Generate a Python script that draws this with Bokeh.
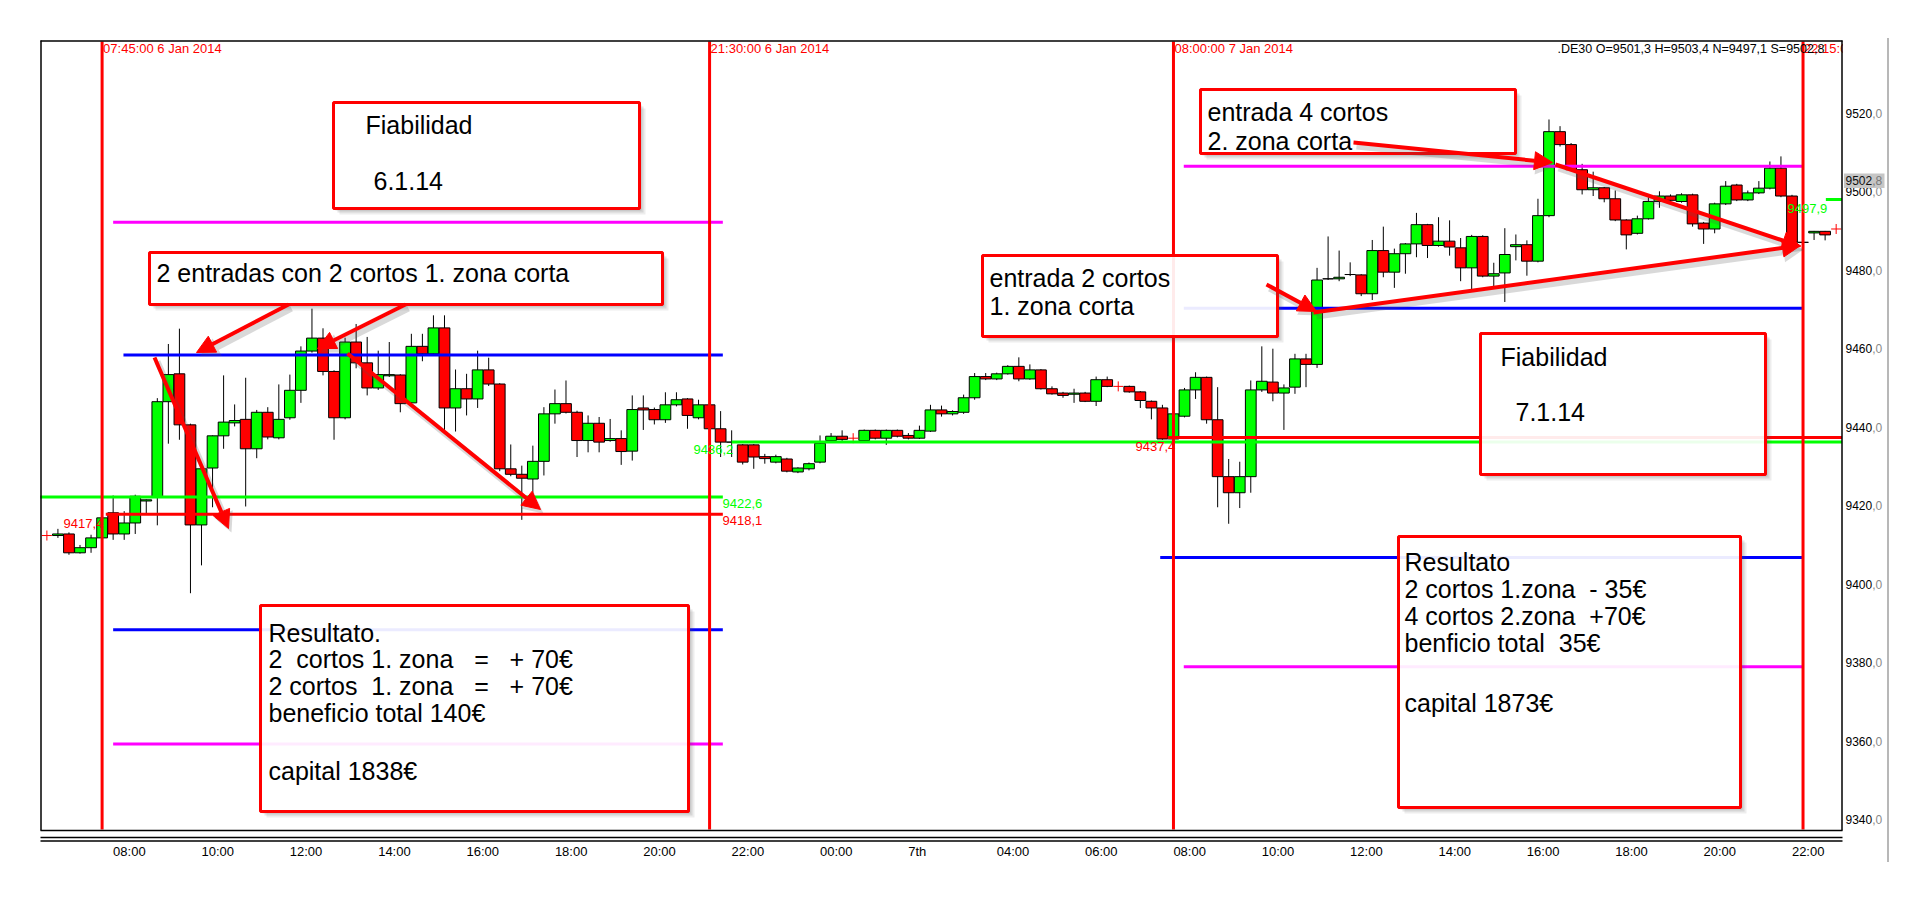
import pandas as pd
from bokeh.plotting import figure
from bokeh.models import Range1d, FixedTicker, Arrow, NormalHead, ColumnDataSource, Spacer
from bokeh.layouts import row, column
from bokeh.core.properties import value
from bokeh.embed import file_html
from bokeh.resources import INLINE

# ---------------- data ----------------
first_bar = "2014-01-06 06:45"   # 15-minute bars
opens = [9412.4, 9412.8, 9408.0, 9409.3, 9411.8, 9418.2, 9412.8, 9415.6, 9421.2, 9422.2,
         9446.5, 9453.6, 9440.6, 9415.1, 9429.6, 9437.8, 9441.1, 9442.0, 9434.5, 9443.8,
         9437.3, 9442.4, 9449.4, 9459.4, 9462.7, 9454.2, 9442.4, 9461.7, 9456.4, 9450.0,
         9453.1, 9453.3, 9446.2, 9460.6, 9458.7, 9465.3, 9444.9, 9449.8, 9447.2, 9454.6,
         9451.0, 9429.4, 9428.0, 9426.8, 9431.3, 9443.4, 9446.0, 9443.8, 9436.6, 9441.0,
         9436.6, 9437.1, 9433.9, 9444.9, 9444.5, 9441.9, 9445.7, 9447.2, 9442.4, 9445.7,
         9439.6, 9436.2, 9435.5, 9435.5, 9432.5, 9431.1, 9431.9, 9428.6, 9429.4, 9431.1,
         9436.6, 9437.7, None, 9436.6, 9439.2, 9437.2, 9439.2, 9437.9, 9437.2, 9439.0,
         9444.4, 9443.4, 9443.8, 9447.5, 9452.9, 9452.3, 9453.6, 9455.5, 9452.3, 9454.6,
         9449.8, 9448.7, 9448.4, 9448.7, 9446.6, 9452.1, None, 9450.4, 9449.0, 9446.6,
         9444.9, 9437.0, 9442.8, 9449.5, 9452.7, 9441.9, 9427.4, 9423.3, 9427.4, 9449.5,
         9451.5, 9448.7, 9450.2, 9457.4, 9456.0, 9477.8, 9477.8, 9478.9, 9478.8, 9474.0,
         9485.0, 9479.5, 9484.2, 9486.7, 9491.6, 9486.3, 9487.4, 9485.7, 9480.6, 9488.6,
         9478.5, 9479.3, 9486.0, 9486.5, 9482.3, 9493.9, 9515.3, 9512.0, 9505.6, 9500.5,
         9501.0, 9498.2, 9492.8, 9489.4, 9493.1, 9497.5, 9498.9, 9497.5, 9499.2, 9492.0,
         9490.5, 9496.9, 9501.7, 9497.9, 9499.7, 9500.9, 9506.0, 9498.9, 9487.1, 9489.5,
         9489.9]
highs = [9414.1, 9413.2, 9410.0, 9412.6, 9417.5, 9422.6, 9418.6, 9422.8, 9421.6, 9447.4,
         9461.2, 9465.1, 9440.9, 9429.6, 9437.9, 9453.2, 9445.8, 9452.6, 9444.4, 9445.1,
         9450.9, 9453.4, 9460.6, 9470.2, 9465.2, 9454.5, 9462.8, 9466.3, 9463.0, 9459.5,
         9461.7, 9453.5, 9463.8, 9463.8, 9468.5, 9468.5, 9454.7, 9453.6, 9459.5, 9457.7,
         9451.2, 9435.6, 9430.2, 9435.3, 9445.1, 9449.6, 9451.9, 9444.2, 9443.0, 9442.6,
         9442.1, 9439.2, 9448.1, 9448.1, 9445.0, 9448.9, 9448.9, 9447.4, 9447.0, 9446.0,
         9444.1, 9439.2, 9435.7, 9435.7, 9433.2, 9433.0, 9432.2, 9429.8, 9431.0, 9437.9,
         9438.5, 9439.2, None, 9439.4, 9439.4, 9439.4, 9439.4, 9438.5, 9440.4, 9445.7,
         9445.5, 9444.3, 9448.3, 9453.8, 9453.8, 9453.9, 9455.8, 9457.8, 9456.0, 9454.8,
         9450.4, 9449.0, 9449.8, 9449.0, 9452.9, 9452.9, None, 9450.6, 9449.2, 9446.8,
         9445.7, 9449.0, 9450.0, 9454.0, 9452.9, 9450.2, 9431.9, 9431.2, 9451.9, 9460.6,
         9460.0, 9450.9, 9458.7, 9458.7, 9480.6, 9488.6, 9485.0, 9482.0, 9479.0, 9487.7,
         9491.1, 9485.5, 9486.9, 9494.6, 9491.8, 9493.5, 9492.7, 9488.2, 9489.0, 9488.9,
         9481.9, 9490.7, 9489.1, 9487.6, 9498.2, 9518.4, 9516.7, 9512.4, 9507.1, 9505.1,
         9501.2, 9500.3, 9493.0, 9493.9, 9498.6, 9500.1, 9499.3, 9499.6, 9499.5, 9492.3,
         9497.2, 9502.7, 9502.0, 9500.3, 9502.7, 9507.7, 9509.0, 9499.2, 9487.3, 9490.0,
         9490.0]
lows = [9411.8, 9407.5, 9407.8, 9408.0, 9411.5, 9411.3, 9411.3, 9412.8, 9418.0, 9415.0,
        9435.8, 9436.8, 9397.7, 9404.8, 9419.6, 9434.5, 9440.2, 9419.8, 9432.1, 9436.9,
        9436.9, 9441.9, 9446.2, 9459.0, 9453.2, 9436.8, 9442.0, 9455.0, 9448.1, 9449.5,
        9452.8, 9443.8, 9446.0, 9456.8, 9458.5, 9439.2, 9438.9, 9443.0, 9444.9, 9450.5,
        9428.8, 9427.5, 9416.4, 9422.6, 9427.7, 9440.9, 9443.5, 9432.4, 9433.6, 9433.6,
        9436.3, 9430.4, 9431.5, 9439.3, 9440.7, 9441.1, 9445.3, 9439.6, 9442.0, 9439.4,
        9432.4, 9432.4, 9430.5, 9429.4, 9430.7, 9430.8, 9428.5, 9428.3, 9429.0, 9430.8,
        9436.2, 9436.5, None, 9436.3, 9436.9, 9435.5, 9437.4, 9436.9, 9437.0, 9438.8,
        9442.7, 9443.0, 9443.4, 9447.0, 9452.0, 9452.0, 9453.4, 9451.7, 9452.1, 9449.6,
        9448.3, 9447.5, 9446.2, 9446.4, 9445.4, 9450.2, None, 9448.8, 9444.9, 9442.0,
        9436.8, 9436.5, 9442.5, 9447.2, 9440.9, 9419.6, 9415.4, 9419.4, 9423.3, 9449.0,
        9446.6, 9439.3, 9448.5, 9450.2, 9455.1, 9477.5, 9477.2, 9478.5, 9473.4, 9472.4,
        9478.2, 9475.5, 9479.1, 9483.3, 9483.1, 9486.0, 9483.7, 9477.2, 9475.2, 9478.2,
        9475.2, 9471.9, 9482.5, 9478.6, 9482.0, 9493.5, 9511.5, 9505.3, 9499.3, 9498.9,
        9497.3, 9492.5, 9485.3, 9489.1, 9492.9, 9495.9, 9497.4, 9497.2, 9491.1, 9486.7,
        9489.4, 9496.6, 9497.6, 9497.6, 9499.4, 9500.6, 9498.6, 9487.1, 9486.9, 9487.7,
        9487.6]
closes = [9412.8, 9408.0, 9409.3, 9411.8, 9416.9, 9412.8, 9415.6, 9422.4, 9421.5, 9446.5,
          9453.4, 9440.6, 9415.1, 9429.4, 9437.8, 9441.3, 9441.7, 9434.5, 9443.8, 9437.5,
          9442.0, 9449.4, 9459.4, 9462.7, 9454.2, 9442.4, 9461.7, 9456.4, 9450.0, 9453.4,
          9453.4, 9446.0, 9460.6, 9458.7, 9465.3, 9444.9, 9449.8, 9447.2, 9454.6, 9451.0,
          9429.4, 9428.0, 9427.0, 9431.3, 9443.4, 9446.0, 9443.8, 9436.6, 9441.0, 9436.2,
          9437.1, 9433.8, 9444.5, 9444.4, 9441.9, 9445.7, 9447.0, 9443.0, 9445.7, 9439.6,
          9436.2, 9436.2, 9431.1, 9432.4, 9432.0, 9432.5, 9428.8, 9429.6, 9430.7, 9435.9,
          9437.7, 9436.9, None, 9439.2, 9437.2, 9439.2, 9437.7, 9437.2, 9439.2, 9444.4,
          9443.4, 9444.0, 9447.5, 9452.9, 9452.3, 9453.6, 9455.5, 9452.3, 9454.6, 9449.8,
          9448.5, 9448.1, 9448.7, 9446.6, 9452.1, 9450.4, None, 9449.0, 9446.8, 9444.9,
          9437.0, 9443.4, 9449.5, 9452.7, 9441.9, 9427.4, 9423.3, 9427.4, 9449.5, 9451.7,
          9448.7, 9450.0, 9457.4, 9456.0, 9477.5, 9477.8, 9478.2, 9478.9, 9474.0, 9485.0,
          9479.5, 9484.2, 9486.7, 9491.6, 9486.3, 9487.4, 9485.9, 9480.6, 9488.6, 9478.5,
          9479.1, 9484.0, 9486.5, 9482.3, 9493.9, 9515.3, 9512.0, 9505.6, 9500.5, 9501.0,
          9498.2, 9492.8, 9489.0, 9493.1, 9497.5, 9498.9, 9497.8, 9499.2, 9491.8, 9490.5,
          9496.9, 9501.4, 9497.9, 9499.7, 9500.9, 9506.0, 9498.9, 9487.1, 9487.1, 9489.9,
          9489.0]

cross_times = ["2014-01-06 06:30", "2014-01-07 00:45", "2014-01-07 06:45", "2014-01-07 23:00"]
cross_prices = [9412.4, 9437.2, 9450.4, 9490.5]

level_prices = [9492.2, 9458.4, 9422.2, 9417.8, 9388.4, 9359.3,
                9436.2, 9437.4, 9506.5, 9470.3, 9406.8, 9379.0, 9498.0]
level_starts = ["2014-01-06 08:00", "2014-01-06 08:14", "2014-01-06 06:21", "2014-01-06 07:50",
                "2014-01-06 08:00", "2014-01-06 08:00",
                "2014-01-06 22:00", "2014-01-07 07:52", "2014-01-07 08:14", "2014-01-07 08:14",
                "2014-01-07 07:42", "2014-01-07 08:14", "2014-01-07 22:46"]
level_ends = ["2014-01-06 21:48"] * 6 + ["2014-01-07 23:08", "2014-01-07 23:08", "2014-01-07 22:15",
                                         "2014-01-07 22:15", "2014-01-07 22:15", "2014-01-07 22:15",
                                         "2014-01-07 23:08"]
level_colors = ["#FF00FF", "#0000FF", "#00FF00", "#FF0000", "#0000FF", "#FF00FF",
                "#00FF00", "#FF0000", "#FF00FF", "#0000FF", "#0000FF", "#FF00FF", "#00FF00"]

vline_times = ["2014-01-06 07:45", "2014-01-06 21:30", "2014-01-07 08:00", "2014-01-07 22:15"]
vline_labels = ["07:45:00 6 Jan 2014", "21:30:00 6 Jan 2014", "08:00:00 7 Jan 2014", "22:15:00 7 Jan 2014"]

x_tick_times = ["2014-01-06 %02d:00" % h for h in range(8, 23, 2)] + \
               ["2014-01-07 %02d:00" % h for h in range(0, 23, 2)]
x_tick_labels = ["08:00", "10:00", "12:00", "14:00", "16:00", "18:00", "20:00", "22:00",
                 "00:00", "7th", "04:00", "06:00", "08:00", "10:00", "12:00", "14:00",
                 "16:00", "18:00", "20:00", "22:00"]
y_ticks = [9340, 9360, 9380, 9400, 9420, 9440, 9460, 9480, 9500, 9520]
y_tick_labels = ["9340,0", "9360,0", "9380,0", "9400,0", "9420,0", "9440,0",
                 "9460,0", "9480,0", "9500,0", "9520,0"]

price_tag_texts = ["9417,4", "9422,6", "9418,1", "9436,2", "9437,4", "9497,9"]
price_tag_colors = ["#FF0000", "#00FF00", "#FF0000", "#00FF00", "#FF0000", "#00FF00"]
last_price_text = "9502,8"
last_price = 9502.8
header_text = ".DE30 O=9501,3 H=9503,4 N=9497,1 S=9502,8"

box_texts = [
    ["Fiabilidad", "6.1.14"],
    ["2 entradas con 2 cortos 1. zona corta"],
    ["Resultato.", "2  cortos 1. zona   =   + 70€", "2 cortos  1. zona   =   + 70€", "beneficio total 140€", "", "capital 1838€"],
    ["entrada 4 cortos", "2. zona corta"],
    ["entrada 2 cortos", "1. zona corta"],
    ["Fiabilidad", "7.1.14"],
    ["Resultato", "2 cortos 1.zona  - 35€", "4 cortos 2.zona  +70€", "benficio total  35€", "", "capital 1873€"],
]

# ---------------- layout geometry (page pixels) ----------------
PPM = 44.18 / 60.0          # pixels per minute
T0 = pd.Timestamp("2014-01-06 00:00")


def mins(s):
    return (pd.Timestamp(s) - T0).total_seconds() / 60.0


def X(px):
    return 465.0 + (px - 101.6) / PPM


def Y(py):
    return 9520.0 - (py - 112.7) / 3.925


SANS = "Liberation Sans"
CW = {":": 0.278, ",": 0.278, "t": 0.278, "h": 0.556}


def twidth(s, size):
    return sum(CW.get(ch, 0.556) for ch in s) * size


box_rects = [(333, 639, 102, 208), (149, 662, 252, 304), (260, 688, 605, 811),
             (1200, 1515, 89, 153), (982, 1277, 255, 336), (1480, 1765, 333, 474),
             (1398, 1740, 536, 807)]
box_text_pos = [
    [(365, 124), (373, 180)],
    [(156, 272)],
    [(268, 632), (268, 658), (268, 685), (268, 712), (268, 740), (268, 770)],
    [(1207, 111), (1207, 140)],
    [(989, 277), (989, 305)],
    [(1500, 356), (1515, 411)],
    [(1404, 561), (1404, 588), (1404, 615), (1404, 642), (1404, 670), (1404, 702)],
]
arrows_px = [(288, 304, 196, 352), (405, 304, 317, 348), (154, 357, 228, 528),
             (347, 353, 540, 509), (1353, 142, 1552, 162), (1266, 284, 1316, 311),
             (1555, 164, 1800, 246), (1313, 312, 1800, 245)]
price_tag_pos = [(63, 523), (722, 503), (722, 520), (693, 449), (1135, 446), (1787, 208)]

# ---------------- figure ----------------
p = figure(width=1856, height=824, output_backend="svg", toolbar_location=None,
           x_range=Range1d(X(39), X(1887)), y_range=Range1d(Y(842), Y(39)),
           y_axis_location=None, min_border_left=8, min_border_right=0,
           min_border_top=1, min_border_bottom=20)
p.background_fill_color = "white"
p.border_fill_color = "white"
p.outline_line_color = None
p.grid.visible = False

# x axis (labels left-aligned to their time, as in the source chart)
x_tick_pos = []
for t, lbl in zip(x_tick_times, x_tick_labels):
    x_tick_pos.append(int(round(mins(t) + twidth(lbl, 13) / 2.0 / PPM)))
xa = p.xaxis[0]
xa.ticker = FixedTicker(ticks=x_tick_pos)
xa.major_label_overrides = {k: v for k, v in zip(x_tick_pos, x_tick_labels)}
xa.axis_line_color = None
xa.major_tick_line_color = None
xa.minor_tick_line_color = None
xa.major_tick_out = 0
xa.major_tick_in = 0
xa.minor_tick_out = 0
xa.minor_tick_in = 0
xa.major_label_standoff = 1
xa.major_label_text_font = SANS
xa.major_label_text_font_size = "13px"
xa.major_label_text_color = "black"

# candles
bx, bo, bh, bl, bc, bcol = [], [], [], [], [], []
t_first = mins(first_bar)
for i, (o, h, l, c) in enumerate(zip(opens, highs, lows, closes)):
    if o is None:
        continue
    bx.append(t_first + 15 * i)
    bo.append(o); bh.append(h); bl.append(l); bc.append(c)
    bcol.append("#00FF00" if c > o else ("#FF0000" if c < o else "#000000"))
src = ColumnDataSource(dict(x=bx, o=bo, h=bh, l=bl, c=bc, col=bcol,
                            top=[max(a, b) for a, b in zip(bo, bc)],
                            bottom=[min(a, b) for a, b in zip(bo, bc)]))
p.segment(x0="x", y0="h", x1="x", y1="l", source=src, line_color="black", line_width=1)
p.vbar(x="x", width=14.6, top="top", bottom="bottom", source=src,
       fill_color="col", line_color="black", line_width=1)
p.scatter(x=[mins(t) for t in cross_times], y=cross_prices, marker="cross", size=10,
          line_color="#FF0000", line_width=1)

# levels
p.segment(x0=[mins(t) for t in level_starts], y0=level_prices,
          x1=[mins(t) for t in level_ends], y1=level_prices,
          line_color=level_colors, line_width=3)

# vertical session lines and their labels
vx = [mins(t) for t in vline_times]
p.segment(x0=vx, y0=[Y(41)] * 4, x1=vx, y1=[Y(829)] * 4, line_color="#FF0000", line_width=3)
p.text(x=[v + 1.0 / PPM for v in vx], y=[Y(48)] * 4, text=vline_labels, text_color="#FF0000",
       text_font=value(SANS), text_font_size="13px", text_baseline="middle", text_align="left")
p.text(x=[X(1557)], y=[Y(48)], text=[header_text], text_color="black",
       text_font=value(SANS), text_font_size="12.5px", text_baseline="middle", text_align="left")

# price tags
p.text(x=[X(a) for a, b in price_tag_pos], y=[Y(b) for a, b in price_tag_pos], text=price_tag_texts,
       text_color=price_tag_colors, text_font=value(SANS), text_font_size="13px",
       text_baseline="middle", text_align="left")

# price-scale area (right of the chart frame)
p.quad(left=[X(1842.5)], right=[X(1890)], top=[Y(38)], bottom=[Y(842)], fill_color="white", line_color=None)

# frame lines
fx0, fx1 = X(40), X(1842)
p.segment(x0=[fx0, X(40.5), X(1841.5), fx0, fx0, fx0],
          y0=[Y(40.5), Y(40), Y(40), Y(830), Y(837), Y(840.5)],
          x1=[fx1, X(40.5), X(1841.5), fx1, fx1, fx1],
          y1=[Y(40.5), Y(830), Y(830), Y(830), Y(837), Y(840.5)],
          line_color="black", line_width=1.5)

# price scale labels: integer part black, decimals grey
ylx = X(1845)
ylx2 = X(1845 + twidth("9520", 12))
p.text(x=[ylx] * len(y_ticks), y=y_ticks, text=[s.split(",")[0] for s in y_tick_labels],
       text_color="#000000", text_font=value(SANS), text_font_size="12px",
       text_baseline="middle", text_align="left")
p.text(x=[ylx2] * len(y_ticks), y=y_ticks, text=["," + s.split(",")[1] for s in y_tick_labels],
       text_color="#8a8a8a", text_font=value(SANS), text_font_size="12px",
       text_baseline="middle", text_align="left")
p.quad(left=[X(1843.5)], right=[X(1884)], top=[last_price + 7.2 / 3.925], bottom=[last_price - 7.2 / 3.925],
       fill_color="#C6C6C6", line_color=None)
p.text(x=[ylx], y=[last_price], text=[last_price_text.split(",")[0]], text_color="#101010",
       text_font=value(SANS), text_font_size="12px", text_baseline="middle", text_align="left")
p.text(x=[ylx2], y=[last_price], text=["," + last_price_text.split(",")[1]], text_color="#7a7a7a",
       text_font=value(SANS), text_font_size="12px", text_baseline="middle", text_align="left")

# boxes with soft shadow (right and bottom strips only)
for d, al in ((6, 0.10), (4, 0.14), (2, 0.18)):
    p.quad(left=[X(r[1]) for r in box_rects], right=[X(r[1] + d) for r in box_rects],
           top=[Y(r[2] + d) for r in box_rects], bottom=[Y(r[3] + d) for r in box_rects],
           fill_color="#505050", fill_alpha=al, line_color=None)
    p.quad(left=[X(r[0] + d) for r in box_rects], right=[X(r[1]) for r in box_rects],
           top=[Y(r[3]) for r in box_rects], bottom=[Y(r[3] + d) for r in box_rects],
           fill_color="#505050", fill_alpha=al, line_color=None)
p.quad(left=[X(r[0]) for r in box_rects], right=[X(r[1]) for r in box_rects],
       top=[Y(r[2]) for r in box_rects], bottom=[Y(r[3]) for r in box_rects],
       fill_color="white", fill_alpha=0.92, line_color="#FF0000", line_width=3)

# arrows with shadow
for (x0, y0, x1, y1) in arrows_px:
    p.add_layout(Arrow(x_start=X(x0 + 3), y_start=Y(y0 + 4), x_end=X(x1 + 3), y_end=Y(y1 + 4),
                       line_color="#505050", line_alpha=0.22, line_width=6,
                       end=NormalHead(size=20, fill_color="#505050", fill_alpha=0.22, line_color=None)))
for (x0, y0, x1, y1) in arrows_px:
    p.add_layout(Arrow(x_start=X(x0), y_start=Y(y0), x_end=X(x1), y_end=Y(y1),
                       line_color="#FF0000", line_width=4,
                       end=NormalHead(size=18, fill_color="#FF0000", line_color="#FF0000")))

# box texts (repeated spaces kept visible)
tx, ty, tt = [], [], []
for lines, poss in zip(box_texts, box_text_pos):
    for s, (a, b) in zip(lines, poss):
        if s:
            tx.append(X(a)); ty.append(Y(b)); tt.append(s.replace("  ", " \u00a0"))
p.text(x=tx, y=ty, text=tt, text_color="black", text_font=value(SANS), text_font_size="25px",
       text_baseline="middle", text_align="left")

sep = Spacer(width=2, height=824, styles={"background-color": "#B8B8B8"})
layout = column(Spacer(width=1880, height=38), row(Spacer(width=31, height=824), p, sep))

html = file_html(layout, INLINE)
html = html.replace("<body>", "<body style=\"background-color:#EEF2F9;\">", 1)
open("out.html", "w").write(html)
